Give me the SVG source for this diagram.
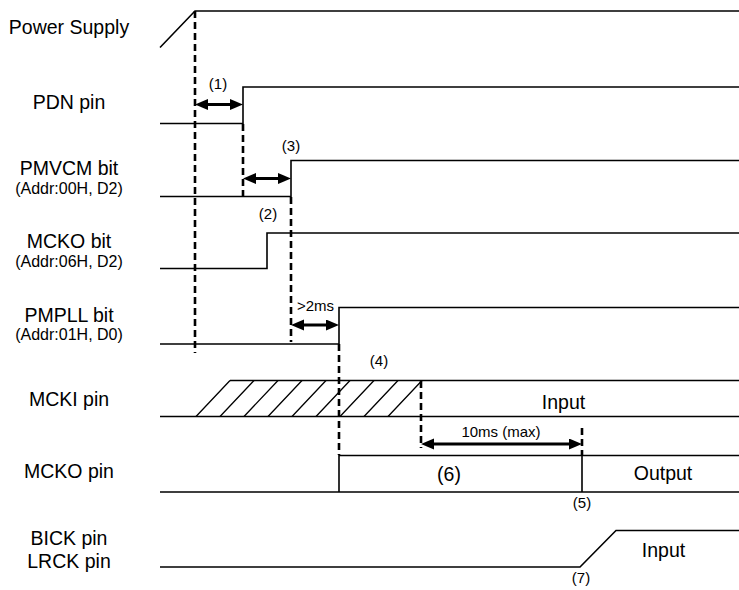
<svg xmlns="http://www.w3.org/2000/svg" width="739" height="590" viewBox="0 0 739 590">
<style>
text{font-family:"Liberation Sans",Arial,sans-serif;fill:#000}
.lbl{font-size:19.5px;text-anchor:middle}
.sub{font-size:16px;text-anchor:middle}
.note{font-size:15px;text-anchor:middle}
.sig{fill:none;stroke:#000;stroke-width:1.6}
.dash{fill:none;stroke:#000;stroke-width:2.6;stroke-dasharray:7 4}
.arr{fill:none;stroke:#000;stroke-width:3;marker-start:url(#ah);marker-end:url(#ah)}
.hatch{fill:none;stroke:#000;stroke-width:1.3}
</style>
<defs>
<marker id="ah" markerUnits="userSpaceOnUse" markerWidth="14" markerHeight="12" refX="3" refY="5.5" orient="auto-start-reverse">
<path d="M0,0 L13,5.5 L0,11 Z" fill="#000"/>
</marker>
</defs>
<rect width="739" height="590" fill="#fff"/>

<g id="power-supply">
<text class="lbl" x="69" y="34">Power Supply</text>
<path class="sig" d="M160,47.5 L195,11 L739,11"/>
</g>

<g id="pdn-pin">
<text class="lbl" x="69" y="109">PDN pin</text>
<path class="sig" d="M160,123.5 L243,123.5 L243,87 L739,87"/>
</g>

<g id="pmvcm-bit">
<text class="lbl" x="69" y="175">PMVCM bit</text>
<text class="sub" x="69" y="194">(Addr:00H, D2)</text>
<path class="sig" d="M160,196.5 L291,196.5 L291,160.5 L739,160.5"/>
</g>

<g id="mcko-bit">
<text class="lbl" x="69" y="248">MCKO bit</text>
<text class="sub" x="69" y="267">(Addr:06H, D2)</text>
<path class="sig" d="M160,268.5 L267,268.5 L267,233 L739,233"/>
</g>

<g id="pmpll-bit">
<text class="lbl" x="69" y="322">PMPLL bit</text>
<text class="sub" x="69" y="340">(Addr:01H, D0)</text>
<path class="sig" d="M160,344 L339,344 L339,307.5 L739,307.5"/>
</g>

<g id="mcki-pin">
<text class="lbl" x="69" y="406">MCKI pin</text>
<path class="sig" d="M160,416.5 L739,416.5 M230,380.5 L739,380.5"/>
<path class="hatch" d="M196,416.5 L230,380.5 M220,416.5 L254,380.5 M244,416.5 L278,380.5 M268,416.5 L302,380.5 M292,416.5 L326,380.5 M316,416.5 L350,380.5 M340,416.5 L374,380.5 M364,416.5 L398,380.5 M388,416.5 L422,380.5"/>
<text class="lbl" x="563.5" y="409">Input</text>
</g>

<g id="mcko-pin">
<text class="lbl" x="69" y="478">MCKO pin</text>
<path class="sig" d="M160,492 L739,492 M339,492 L339,455.5 L739,455.5 M582,455.5 L582,492"/>
<text class="lbl" x="449" y="481">(6)</text>
<text class="lbl" x="663" y="480">Output</text>
</g>

<g id="bick-lrck-pin">
<text class="lbl" x="69" y="545">BICK pin</text>
<text class="lbl" x="69" y="568">LRCK pin</text>
<path class="sig" d="M160,567 L580,567 L616,530.5 L739,530.5"/>
<text class="lbl" x="663.5" y="557">Input</text>
</g>

<g id="connectors">
<path class="dash" d="M195,11 L195,353"/>
<path class="dash" d="M243,124 L243,197"/>
<path class="dash" d="M291,197 L291,342"/>
<path class="dash" d="M339,344 L339,455"/>
<path class="dash" d="M421,381 L421,448"/>
<path class="dash" d="M582,428 L582,455"/>
<path class="arr" d="M205,104.5 L233,104.5"/>
<path class="arr" d="M253,178.5 L281,178.5"/>
<path class="arr" d="M301,325 L329,325"/>
<path class="arr" d="M431,444 L572,444"/>
<text class="note" x="218" y="89">(1)</text>
<text class="note" x="291" y="151">(3)</text>
<text class="note" x="268" y="219">(2)</text>
<text class="note" x="297" y="311" style="text-anchor:start">&gt;2ms</text>
<text class="note" x="379" y="366">(4)</text>
<text class="note" x="501" y="437">10ms (max)</text>
<text class="note" x="582" y="508">(5)</text>
<text class="note" x="581" y="583">(7)</text>
</g>
</svg>
